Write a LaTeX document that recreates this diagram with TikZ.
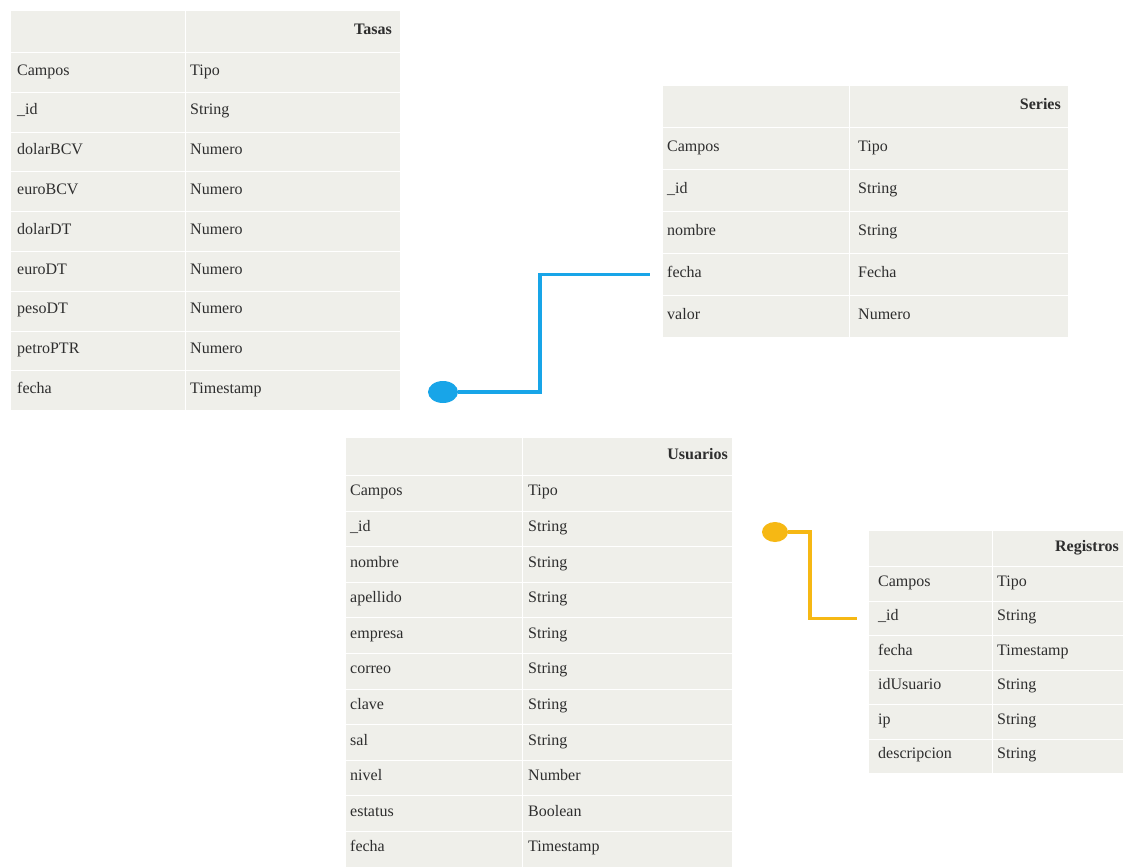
\documentclass[tikz,border=0pt]{standalone}
\usepackage{fontspec}
\setmainfont{Liberation Serif}
\usetikzlibrary{shapes.geometric}

\definecolor{cellgrey}{HTML}{EFEFEA}
\definecolor{textgrey}{HTML}{2E2E2E}
\definecolor{linkblue}{HTML}{18A5E8}
\definecolor{linkgold}{HTML}{F6B814}

\tikzset{
  row/.style={rectangle, anchor=north west, fill=cellgrey, draw=white,
    line width=1pt, inner sep=0pt},
  txt/.style={anchor=west, inner sep=0pt, text height=1.45ex, text depth=.3ex,
    text=textgrey, font=\fontsize{16}{19}\selectfont},
  title/.style={txt, anchor=east, font=\fontsize{16}{19}\selectfont\bfseries},
  divider/.style={draw=white, line width=.8pt},
  link/.style={line width=3.5pt},
  linkend/.style={ellipse, inner sep=0pt}
}

\begin{document}
\begin{tikzpicture}[x=1pt, y=-1pt]
  \fill[white] (0,0) rectangle (1134,867);
  \useasboundingbox (0,0) rectangle (1134,867);

  % Tasas
  \node[row, minimum width=390pt, minimum height=42pt] (tasas-0) at (10,10) {};
  \foreach \f/\t [count=\i] in {Campos/Tipo,\_id/String,dolarBCV/Numero,
      euroBCV/Numero,dolarDT/Numero,euroDT/Numero,pesoDT/Numero,
      petroPTR/Numero,fecha/Timestamp} {
    \node[row, minimum width=390pt, minimum height=39.8pt] (tasas-\i) at (10,{52+(\i-1)*39.8}) {};
    \node[txt] (tasas-f\i) at ([xshift=7pt]tasas-\i.west) {\f};
    \node[txt] (tasas-t\i) at ([xshift=180pt]tasas-\i.west) {\t};
  }
  \draw[divider] (tasas-0.north west) ++(175,0) -- ++(0,400);
  \node[title] (tasas-title) at ([xshift=-9pt]tasas-0.east) {Tasas};

  % Series
  \node[row, minimum width=406pt, minimum height=42pt] (series-0) at (662,85) {};
  \foreach \f/\t [count=\i] in {Campos/Tipo,\_id/String,nombre/String,
      fecha/Fecha,valor/Numero} {
    \node[row, minimum width=406pt, minimum height=42pt] (series-\i) at (662,{127+(\i-1)*42}) {};
    \node[txt] (series-f\i) at ([xshift=5pt]series-\i.west) {\f};
    \node[txt] (series-t\i) at ([xshift=196pt]series-\i.west) {\t};
  }
  \draw[divider] (series-0.north west) ++(187,0) -- ++(0,252);
  \node[title] (series-title) at ([xshift=-8pt]series-0.east) {Series};

  % Usuarios
  \node[row, minimum width=387pt, minimum height=38pt] (usr-0) at (345,437) {};
  \foreach \f/\t [count=\i] in {Campos/Tipo,\_id/String,nombre/String,
      apellido/String,empresa/String,correo/String,clave/String,sal/String,
      nivel/Number,estatus/Boolean,fecha/Timestamp} {
    \node[row, minimum width=387pt, minimum height=35.6pt] (usr-\i) at (345,{475+(\i-1)*35.6}) {};
    \node[txt] (usr-f\i) at ([xshift=5pt]usr-\i.west) {\f};
    \node[txt] (usr-t\i) at ([xshift=183pt]usr-\i.west) {\t};
  }
  \draw[divider] (usr-0.north west) ++(177,0) -- ++(0,430);
  \node[title] (usr-title) at ([xshift=-5pt]usr-0.east) {Usuarios};

  % Registros
  \node[row, minimum width=255pt, minimum height=36pt] (reg-0) at (868,530) {};
  \foreach \f/\t [count=\i] in {Campos/Tipo,\_id/String,fecha/Timestamp,
      idUsuario/String,ip/String,descripcion/String} {
    \node[row, minimum width=255pt, minimum height=34.5pt] (reg-\i) at (868,{566+(\i-1)*34.5}) {};
    \node[txt] (reg-f\i) at ([xshift=10pt]reg-\i.west) {\f};
    \node[txt] (reg-t\i) at ([xshift=129pt]reg-\i.west) {\t};
  }
  \draw[divider] (reg-0.north west) ++(124,0) -- ++(0,243);
  \node[title] (reg-title) at ([xshift=-5pt]reg-0.east) {Registros};

  % links
  \node[linkend, fill=linkblue, minimum width=30pt, minimum height=22pt] (blue-end) at (443,392) {};
  \draw[link, linkblue] (blue-end.east) -- ++(82,0) |- ([xshift=-12pt]series-4.west);

  \node[linkend, fill=linkgold, minimum width=26pt, minimum height=20pt] (gold-end) at (775,532) {};
  \draw[link, linkgold] (gold-end.east) -- ++(22,0) |- ([xshift=-11pt]reg-2.west);
\end{tikzpicture}
\end{document}
